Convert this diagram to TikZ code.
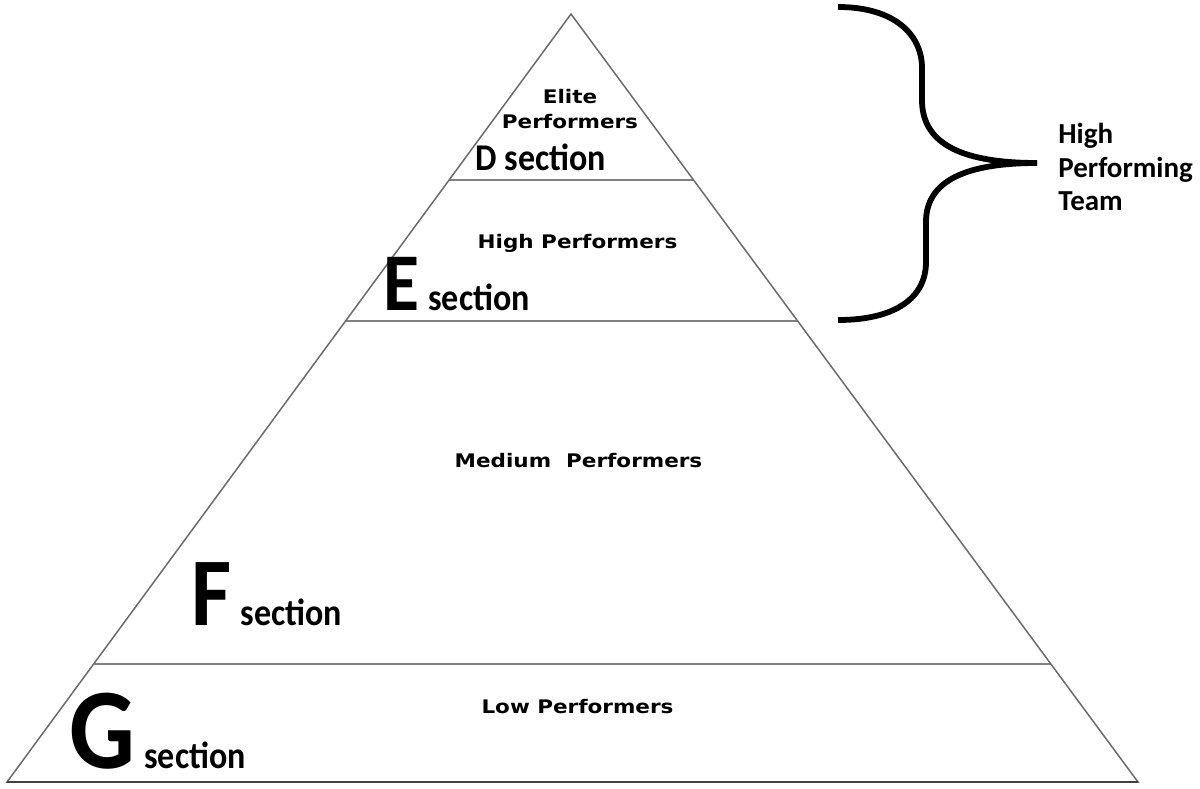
\documentclass[tikz,border=0pt]{standalone}
\usepackage{fontspec}
\newfontfamily\lblfont{DejaVu Sans}[FakeStretch=1.15]
\newfontfamily\secfont{Carlito}[FakeStretch=0.9]
\newfontfamily\teamfont{Carlito}
\usetikzlibrary{calc}
\usetikzlibrary{positioning}

\tikzset{
  edge/.style={draw=black!58, line width=0.75pt},
  layer/.style={draw=black!50, line width=1pt},
  ground/.style={draw=black!75, line width=1pt},
  lbl/.style={font=\lblfont\bfseries\fontsize{9.35}{12}\selectfont, inner sep=0pt, anchor=base},
  sec/.style={font=\secfont\bfseries, inner sep=0pt, anchor=base west},
  team/.style={font=\teamfont\bfseries\fontsize{14.5}{16.75}\selectfont, inner sep=0pt, align=left},
  brace/.style={draw=black, line width=2.9pt},
}
\newcommand{\bigsec}[2]{{\fontsize{#1}{#1}\selectfont #2}\hspace{4.5pt}{\fontsize{18.9}{22}\selectfont section}}

\begin{document}
\begin{tikzpicture}[x=0.5pt, y=-0.5pt]
  \useasboundingbox (0,0) rectangle (1200,788);

  % pyramid
  \coordinate (apex) at (571,14);
  \coordinate (bl) at (7,782);
  \coordinate (br) at (1138,782);
  \draw[layer] ($(apex)!0.216!(bl)$) -- ($(apex)!0.216!(br)$);
  \draw[layer] ($(apex)!0.40!(bl)$) -- ($(apex)!0.40!(br)$);
  \draw[layer] ($(apex)!0.846!(bl)$) -- ($(apex)!0.846!(br)$);
  \draw[edge] (apex) -- (bl) -- (br) -- cycle;
  \draw[ground] (bl) -- (br);

  % performer labels
  \node[lbl] (elite) at (570,103) {Elite};
  \node[lbl] (elitep) at (570,128) {Performers};
  \node[lbl] (high) at (577.5,248) {High Performers};
  \node[lbl] (medium) at (578.5,467) {Medium\ \ Performers};
  \node[lbl] (low) at (577.5,713) {Low Performers};

  % sections
  \node[sec] (dsec) at (475,170) {\fontsize{18.9}{22}\selectfont D section};
  \node[sec] (esec) at (383,310) {\bigsec{41}{E}};
  \node[sec] (fsec) at (191,625) {\bigsec{48.5}{F}};
  \node[sec] (gsec) at (69,768) {\bigsec{57.5}{G}};

  % brace
  \coordinate (tip) at (1037,163);
  \draw[brace] (838,7) .. controls (895,7) and (922,35) .. (922,68) -- (922,100)
    .. controls (922,140) and (955,163) .. (tip);
  \draw[brace] (tip) .. controls (958,163) and (926,185) .. (926,222) -- (926,262)
    .. controls (926,298) and (895,320) .. (838,320);
  \node[team, anchor=west] (team) at (1058,167) {High\\Performing\\Team};
\end{tikzpicture}
\end{document}
